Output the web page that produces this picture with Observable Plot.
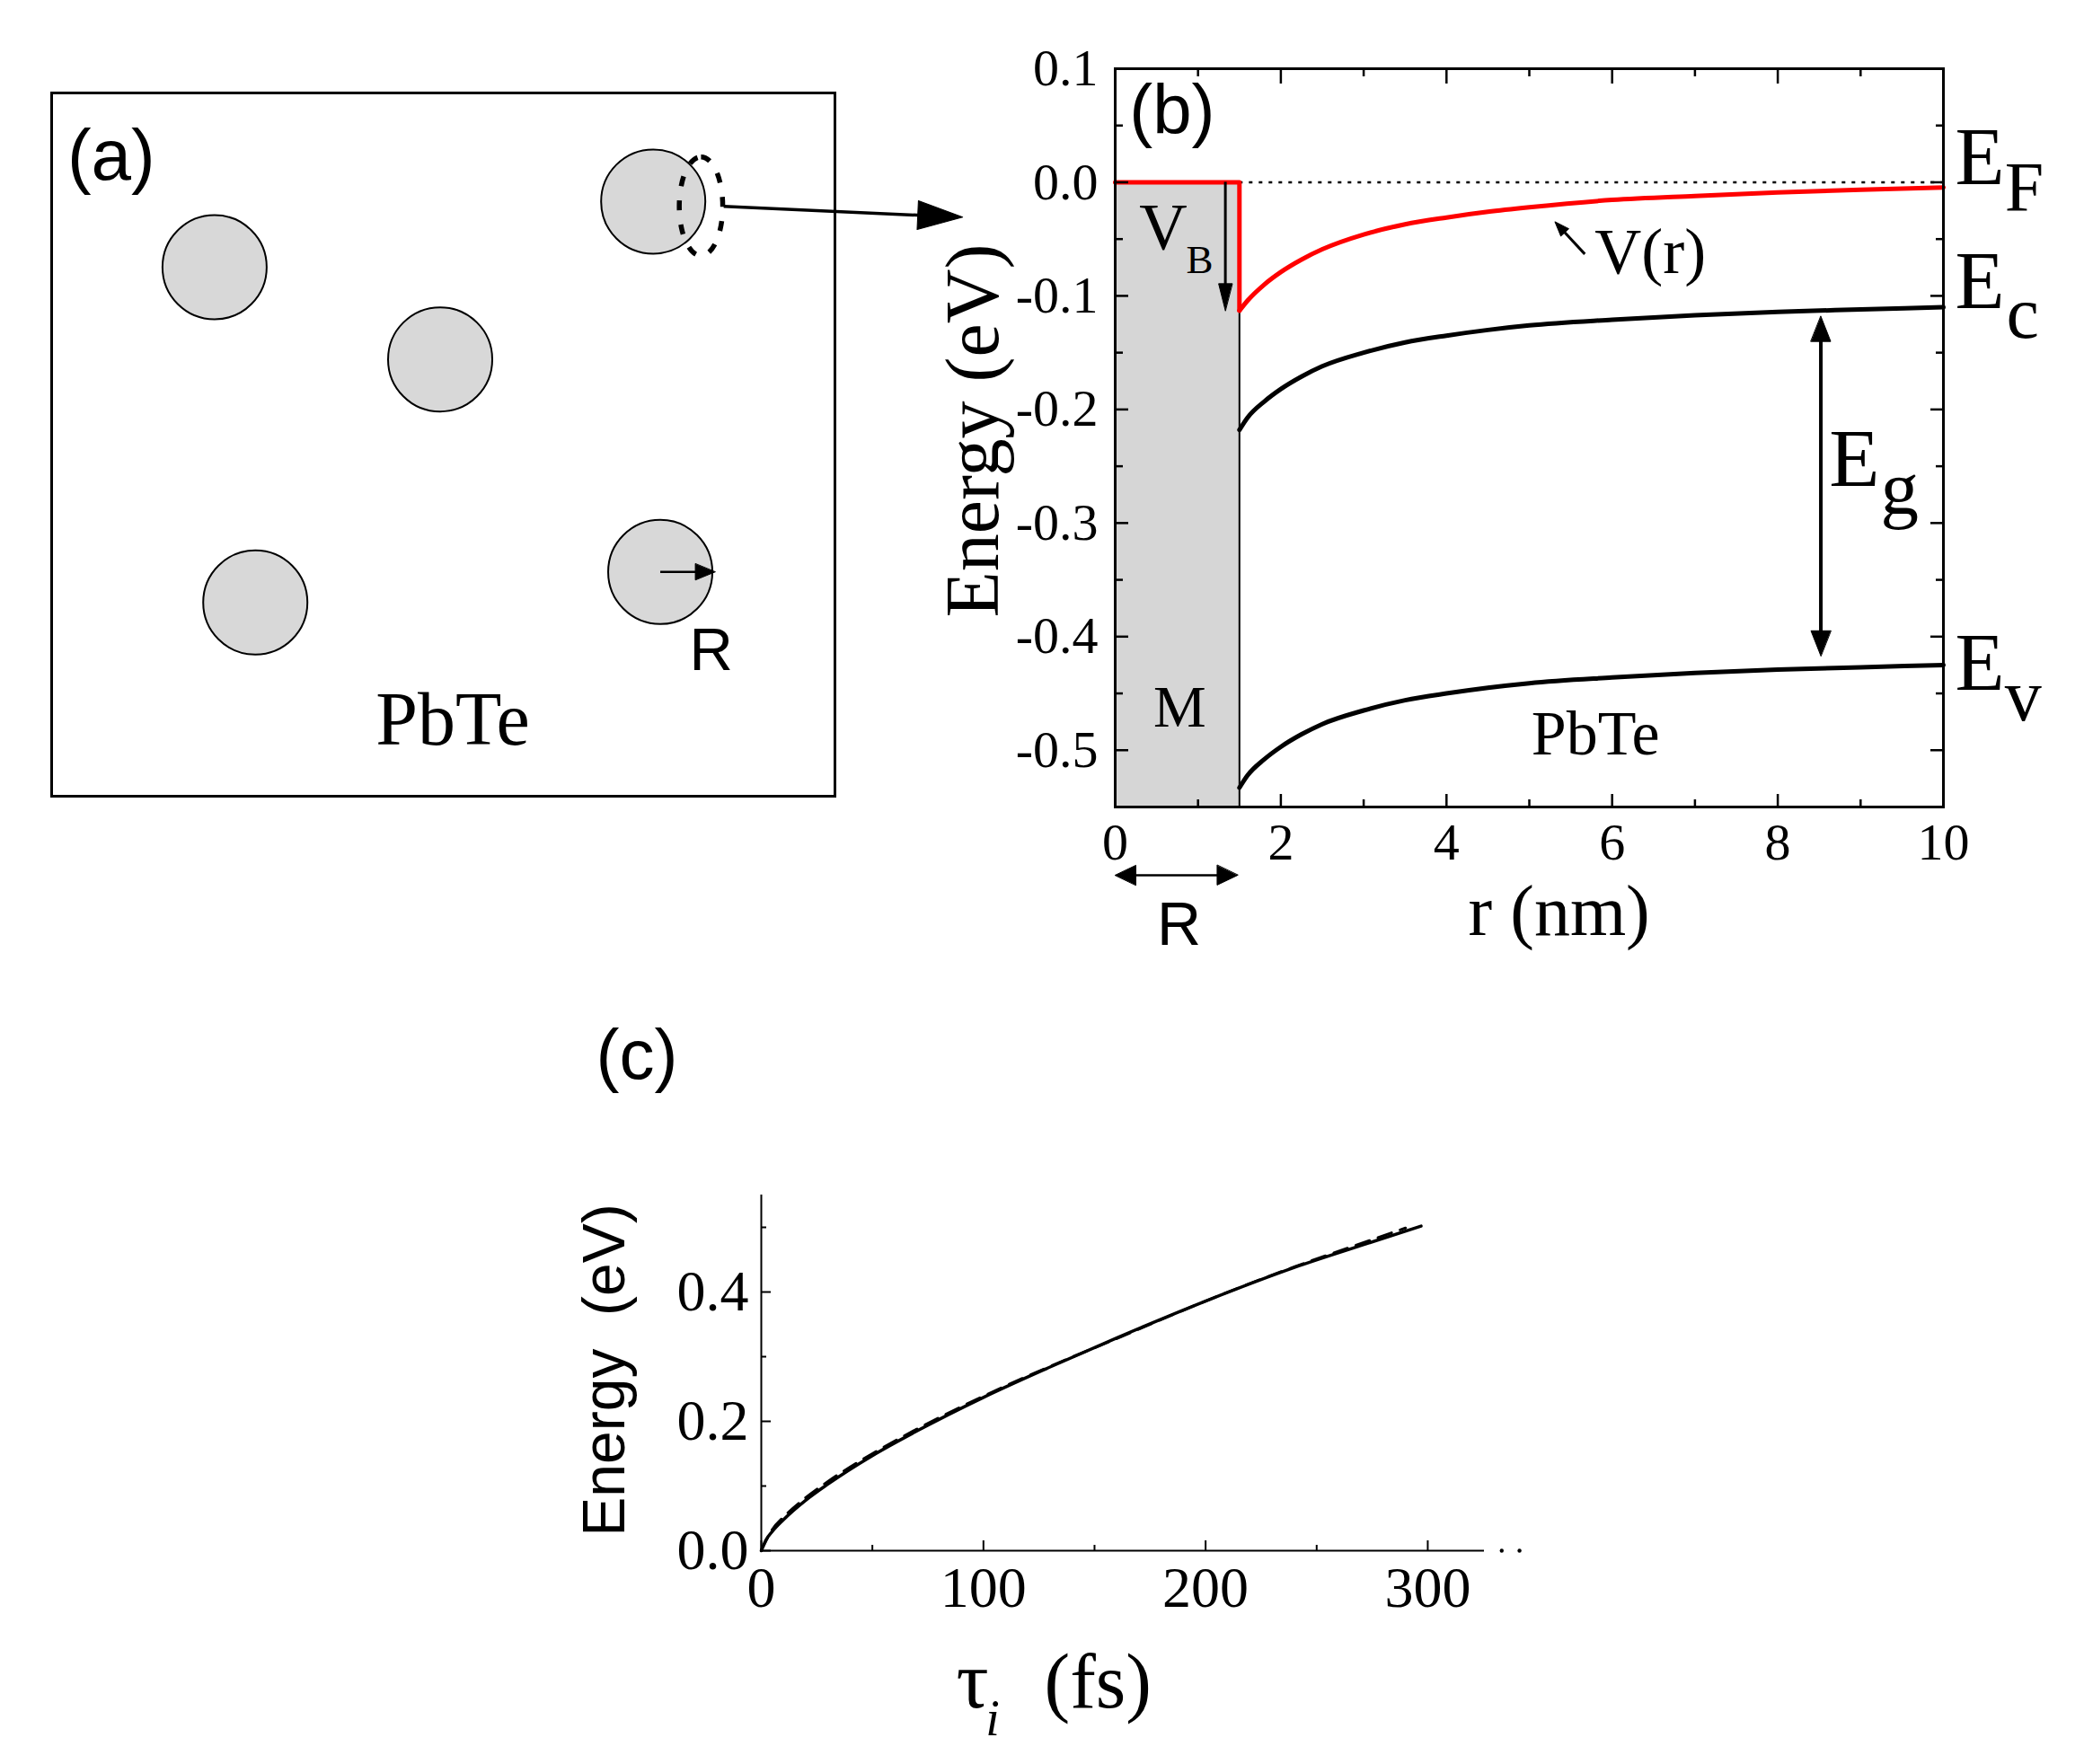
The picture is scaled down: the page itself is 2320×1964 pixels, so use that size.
<!DOCTYPE html>
<html>
<head>
<meta charset="utf-8">
<script src="https://cdn.jsdelivr.net/npm/d3@7"></script>
<script src="https://cdn.jsdelivr.net/npm/@observablehq/plot@0.6"></script>
<style>
  body { margin: 0; background: #fff; }
  #fig { position: relative; width: 2320px; height: 1964px; overflow: hidden; background: #fff; }
  .panel { position: absolute; }
  .panel svg { overflow: visible; max-width: none !important; }
</style>
</head>
<body>
<div id="fig"></div>
<script>
// ================= DATA =================
// Panel (a): nanoparticle positions in the PbTe matrix (schematic units, box 10 x 9)
const particleX = [2.08, 4.96, 2.60, 7.68, 7.77];
const particleY = [2.23, 3.41, 6.52, 1.39, 6.13];
const zoomSpotX = [8.29];
const zoomSpotY = [1.45];

// Panel (b): band profile around the metallic particle (r in nm, energy in eV)
const metalRadius = 1.5;
const barrierVB = -0.113;
const fermiLevel = 0;
const rGrid     = [1.5, 1.6, 1.8, 2.0, 2.25, 2.5, 3.0, 3.5, 4.0, 4.5, 5.0, 6.0, 7.0, 8.0, 9.0, 10.0];
const potentialV = [-0.113, -0.104, -0.090, -0.079, -0.068, -0.059, -0.046, -0.037, -0.031, -0.026, -0.022, -0.0155, -0.012, -0.009, -0.0065, -0.0045];
const bandEc    = [-0.218, -0.207, -0.193, -0.182, -0.171, -0.162, -0.150, -0.141, -0.135, -0.130, -0.126, -0.121, -0.117, -0.114, -0.112, -0.110];
const bandEv    = [-0.533, -0.522, -0.508, -0.497, -0.486, -0.477, -0.465, -0.456, -0.450, -0.445, -0.441, -0.436, -0.432, -0.429, -0.427, -0.425];
const gapArrowR = 8.52, gapTop = -0.118, gapBottom = -0.417;
const yTicksB = [0.1, 0, -0.1, -0.2, -0.3, -0.4, -0.5];
const yMinorB = [0.05, -0.05, -0.15, -0.25, -0.35, -0.45];
const xTicksB = [0, 2, 4, 6, 8, 10];
const xMinorB = [1, 3, 5, 7, 9];

// Panel (c): energy vs. lifetime tau_i (fs)
const tauSolid = [0, 2, 5, 10, 20, 30, 50, 70, 100, 130, 160, 200, 240, 270, 297];
const eSolid   = [0, 0.016, 0.030, 0.048, 0.078, 0.103, 0.147, 0.185, 0.237, 0.284, 0.329, 0.386, 0.438, 0.472, 0.502];
const tauDash  = [0, 5, 10, 20, 30, 50, 70, 100, 130, 160, 200, 240, 270, 290];
const eDash    = [0, 0.033, 0.052, 0.082, 0.107, 0.150, 0.188, 0.239, 0.285, 0.328, 0.386, 0.439, 0.475, 0.499];
const yTicksC = [0, 0.2, 0.4];
const yMinorC = [0.1, 0.3, 0.5];
const xTicksC = [0, 100, 200, 300];
const xMinorC = [50, 150, 250];
const axisDotsC = [333.3, 341.3];

// ================= HELPERS =================
const serif = "'Liberation Serif', 'Times New Roman', serif";
const sans = "'Liberation Sans', Arial, Helvetica, sans-serif";
const fig = document.getElementById("fig");
function place(el, left, top) {
  const d = document.createElement("div");
  d.className = "panel"; d.style.left = left + "px"; d.style.top = top + "px";
  d.appendChild(el); fig.appendChild(d);
}
function label(x, y, t, o = {}) {
  return Plot.text([{x, y, t}], {x: "x", y: "y", text: "t", fill: "black", lineAnchor: "bottom", textAnchor: "start", ...o});
}
const headShape = {draw(ctx, l, r) { ctx.moveTo(0, -l); ctx.lineTo(r, 0); ctx.lineTo(-r, 0); ctx.closePath(); }};
function head(x, y, rotate, length, r) {
  return Plot.vector([{x, y}], {x: "x", y: "y", rotate, length, r, anchor: "end", shape: headShape, fill: "black", stroke: "black", strokeWidth: 1});
}
const lensSymbol = {draw(ctx, size) {
  const ry = Math.sqrt(size / Math.PI), rx = ry * 0.44, k = 0.5523;
  ctx.moveTo(0, -ry);
  ctx.bezierCurveTo(k * rx, -ry, rx, -k * ry, rx, 0);
  ctx.bezierCurveTo(rx, k * ry, k * rx, ry, 0, ry);
  ctx.bezierCurveTo(-k * rx, ry, -rx, k * ry, -rx, 0);
  ctx.bezierCurveTo(-rx, -k * ry, -k * rx, -ry, 0, -ry);
  ctx.closePath();
}};
const baseStyle = {background: "transparent", overflow: "visible", color: "black"};

// ================= PANEL (a) =================
const particles = particleX.map((x, i) => ({x, y: particleY[i]}));
const zoomSpot = zoomSpotX.map((x, i) => ({x, y: zoomSpotY[i]}));
const plotA = Plot.plot({
  width: 1100, height: 950,
  marginLeft: 57, marginRight: 171, marginTop: 103, marginBottom: 64,
  x: {domain: [0, 10], axis: null},
  y: {domain: [0, 9], reverse: true, axis: null},
  style: {...baseStyle, fontFamily: sans},
  marks: [
    Plot.frame({stroke: "black", strokeWidth: 3}),
    Plot.dot(particles, {x: "x", y: "y", r: 58, fill: "#d8d8d8", stroke: "black", strokeWidth: 2}),
    Plot.dot(zoomSpot, {x: "x", y: "y", r: 55, symbol: lensSymbol, fill: "none", stroke: "black", strokeWidth: 5.5, strokeDasharray: "11,16"}),
    Plot.link([{x1: 7.77, y1: 6.13, x2: 8.42, y2: 6.13}], {x1: "x1", y1: "y1", x2: "x2", y2: "y2", stroke: "black", strokeWidth: 2.5}),
    head(8.47, 6.13, 90, 22, 9),
    Plot.link([{x1: 8.58, y1: 1.45, x2: 11.4, y2: 1.58}], {x1: "x1", y1: "y1", x2: "x2", y2: "y2", stroke: "black", strokeWidth: 3.5}),
    head(11.63, 1.59, 92.6, 50, 16),
    label(0.2, 1.11, "(a)", {fontFamily: sans, fontSize: 80}),
    label(5.12, 8.34, "PbTe", {fontFamily: serif, fontSize: 84, textAnchor: "middle"}),
    label(8.42, 7.38, "R", {fontFamily: sans, fontSize: 67, textAnchor: "middle"})
  ]
});
place(plotA, 0, 0);

// ================= PANEL (b) =================
const stepV = [{r: 0, E: fermiLevel}, {r: metalRadius, E: fermiLevel}, {r: metalRadius, E: barrierVB}];
const curveV = rGrid.map((r, i) => ({r, E: potentialV[i]}));
const curveEc = rGrid.map((r, i) => ({r, E: bandEc[i]}));
const curveEv = rGrid.map((r, i) => ({r, E: bandEv[i]}));
const plotB = Plot.plot({
  width: 1320, height: 1100,
  marginLeft: 241, marginRight: 157, marginTop: 76, marginBottom: 202,
  x: {domain: [0, 10]},
  y: {domain: [-0.55, 0.1]},
  style: {...baseStyle, fontFamily: serif},
  marks: [
    Plot.rect([{x1: 0, x2: metalRadius, y1: -0.55, y2: 0}], {x1: "x1", x2: "x2", y1: "y1", y2: "y2", fill: "#d6d6d6"}),
    Plot.ruleX([metalRadius], {y1: -0.55, y2: 0, stroke: "black", strokeWidth: 2}),
    Plot.ruleY([fermiLevel], {x1: metalRadius, x2: 10, stroke: "black", strokeWidth: 2.5, strokeDasharray: "4,7"}),
    Plot.line(curveEc, {x: "r", y: "E", stroke: "black", strokeWidth: 5, curve: "monotone-x"}),
    Plot.line(curveEv, {x: "r", y: "E", stroke: "black", strokeWidth: 5, curve: "monotone-x"}),
    Plot.line(stepV, {x: "r", y: "E", stroke: "#ff0000", strokeWidth: 5, curve: "linear"}),
    Plot.line(curveV, {x: "r", y: "E", stroke: "#ff0000", strokeWidth: 5, curve: "monotone-x"}),
    // axes (inward ticks, mirrored on top/right)
    Plot.axisY(yTicksB, {anchor: "left", tickSize: -15, tickPadding: 34, strokeWidth: 2.5, fontSize: 58, tickFormat: d => d.toFixed(1), label: null}),
    Plot.axisY(yMinorB, {anchor: "left", tickSize: -9, strokeWidth: 2.5, fill: "none", label: null}),
    Plot.axisY(yTicksB, {anchor: "right", tickSize: -15, strokeWidth: 2.5, fill: "none", label: null}),
    Plot.axisY(yMinorB, {anchor: "right", tickSize: -9, strokeWidth: 2.5, fill: "none", label: null}),
    Plot.axisX(xTicksB, {anchor: "bottom", tickSize: -14, tickPadding: 31, strokeWidth: 2.5, fontSize: 58, label: null}),
    Plot.axisX(xMinorB, {anchor: "bottom", tickSize: -8, strokeWidth: 2.5, fill: "none", label: null}),
    Plot.axisX(xTicksB, {anchor: "top", tickSize: -16, strokeWidth: 2.5, fill: "none", label: null}),
    Plot.axisX(xMinorB, {anchor: "top", tickSize: -8, strokeWidth: 2.5, fill: "none", label: null}),
    Plot.frame({stroke: "black", strokeWidth: 3}),
    // V_B arrow
    Plot.ruleX([1.33], {y1: fermiLevel, y2: -0.095, stroke: "black", strokeWidth: 3}),
    head(1.33, barrierVB, 180, 30, 7.5),
    // E_g double arrow
    Plot.ruleX([gapArrowR], {y1: -0.13, y2: -0.405, stroke: "black", strokeWidth: 4}),
    head(gapArrowR, gapTop, 0, 28, 11),
    head(gapArrowR, gapBottom, 180, 28, 11),
    // V(r) pointer
    Plot.link([{x1: 5.67, y1: -0.0632, x2: 5.42, y2: -0.0435}], {x1: "x1", y1: "y1", x2: "x2", y2: "y2", stroke: "black", strokeWidth: 3}),
    head(5.31, -0.0348, -42.8, 16, 6),
    // R double arrow below axis
    Plot.ruleY([-0.61], {x1: 0.15, x2: 1.33, stroke: "black", strokeWidth: 2.5}),
    head(0, -0.61, -90, 23, 11),
    head(1.48, -0.61, 90, 23, 11),
    // labels
    label(0.17, 0.0427, "(b)", {fontFamily: sans, fontSize: 78}),
    label(0.29, -0.0593, "V", {fontSize: 74}),
    label(0.857, -0.0798, "B", {fontSize: 45}),
    label(0.78, -0.479, "M", {fontSize: 66, textAnchor: "middle"}),
    label(5.80, -0.504, "PbTe", {fontSize: 70, textAnchor: "middle"}),
    label(5.79, -0.0798, "V(r)", {fontSize: 72}),
    label(8.62, -0.267, "E", {fontSize: 92}),
    label(9.24, -0.292, "g", {fontSize: 85}),
    label(10.14, -0.0016, "E", {fontSize: 90}),
    label(10.74, -0.0245, "F", {fontSize: 78}),
    label(10.14, -0.111, "E", {fontSize: 90}),
    label(10.76, -0.1368, "c", {fontSize: 82}),
    label(10.14, -0.447, "E", {fontSize: 90}),
    label(10.74, -0.4735, "v", {fontSize: 82}),
    label(0.77, -0.671, "R", {fontFamily: sans, fontSize: 68, textAnchor: "middle"}),
    label(5.36, -0.6625, "r (nm)", {fontSize: 80, textAnchor: "middle"}),
    Plot.text(["Energy (eV)"], {frameAnchor: "left", dx: -157, dy: -8, rotate: -90, fontSize: 84, fill: "black", lineAnchor: "middle", textAnchor: "middle"})
  ]
});
place(plotB, 1000, 0);

// ================= PANEL (c) =================
const solidC = tauSolid.map((t, i) => ({t, E: eSolid[i]}));
const dashC = tauDash.map((t, i) => ({t, E: eDash[i]}));
const plotC = Plot.plot({
  width: 1200, height: 864,
  marginLeft: 247, marginRight: 148, marginTop: 230, marginBottom: 238,
  x: {domain: [0, 325.5]},
  y: {domain: [0, 0.55]},
  style: {...baseStyle, fontFamily: serif},
  marks: [
    Plot.ruleX([0], {stroke: "black", strokeWidth: 2}),
    Plot.ruleY([0], {stroke: "black", strokeWidth: 2}),
    Plot.dot(axisDotsC, {x: d => d, y: 0, r: 2.2, fill: "black", stroke: "none"}),
    Plot.axisY(yTicksC, {anchor: "left", tickSize: -11, tickPadding: 25, strokeWidth: 2, fontSize: 64, tickFormat: d => d.toFixed(1), label: null}),
    Plot.axisY(yMinorC, {anchor: "left", tickSize: -6, strokeWidth: 2, fill: "none", label: null}),
    Plot.axisX(xTicksC, {anchor: "bottom", tickSize: -11, tickPadding: 28, strokeWidth: 2, fontSize: 64, label: null}),
    Plot.axisX(xMinorC, {anchor: "bottom", tickSize: -6, strokeWidth: 2, fill: "none", label: null}),
    Plot.line(dashC, {x: "t", y: "E", stroke: "black", strokeWidth: 3, strokeDasharray: "16,10", curve: "monotone-x"}),
    Plot.line(solidC, {x: "t", y: "E", stroke: "black", strokeWidth: 3.5, curve: "monotone-x"}),
    label(-74.4, 0.730, "(c)", {fontFamily: sans, fontSize: 78}),
    Plot.text(["Energy\u00a0\u00a0(eV)"], {frameAnchor: "left", dx: -174, dy: -3, rotate: -90, fontSize: 66, fontFamily: sans, fill: "black", lineAnchor: "middle", textAnchor: "middle"}),
    label(87.7, -0.243, "\u03c4", {fontSize: 90}),
    label(101, -0.285, "i", {fontSize: 56, fontStyle: "italic"}),
    label(127.4, -0.243, "(fs)", {fontSize: 86})
  ]
});
place(plotC, 600, 1100);
</script>
</body>
</html>
